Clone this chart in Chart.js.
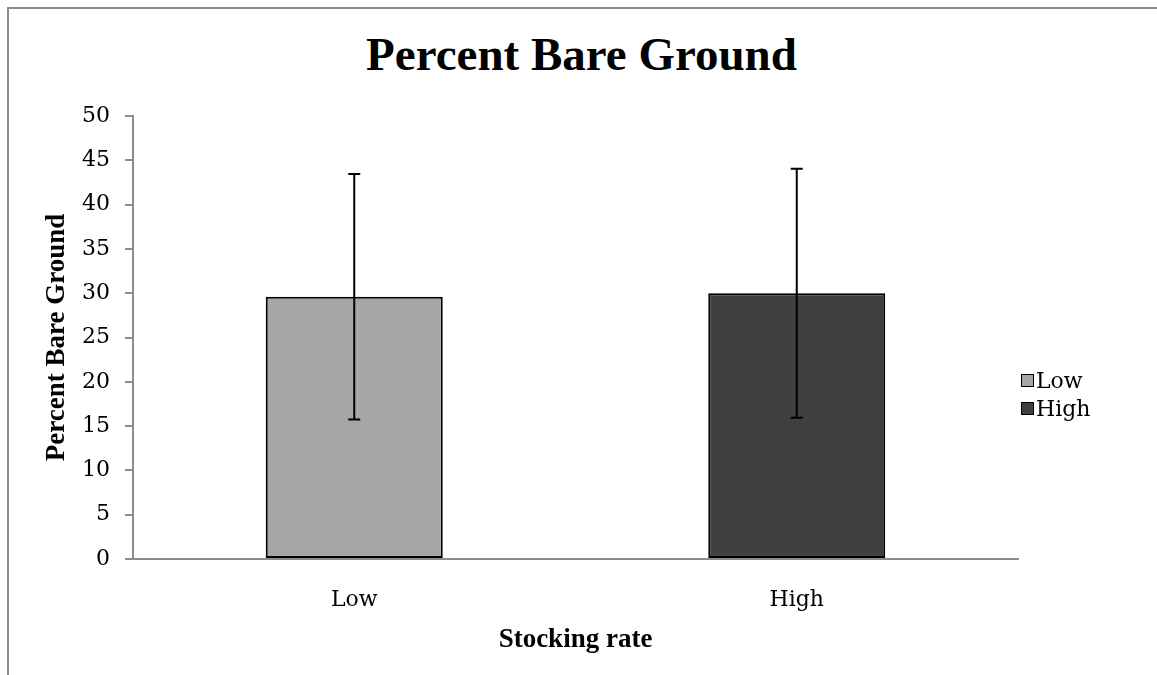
<!DOCTYPE html>
<html>
<head>
<meta charset="utf-8">
<script src="https://cdn.jsdelivr.net/npm/chart.js@4/dist/chart.umd.min.js"></script>
<style>
  html, body { margin: 0; padding: 0; background: #fff; }
  body { width: 1157px; height: 675px; position: relative; overflow: hidden; }
  #frame {
    position: absolute; left: 7px; top: 7px; width: 1200px; height: 720px;
    border-left: 2px solid #8c8c8c; border-top: 2px solid #8c8c8c;
  }
  #title {
    position: absolute; left: 0; width: 1163px; top: 27px; text-align: center;
    font: bold 47px "Liberation Serif", serif; color: #000;
  }
  #wrap { position: absolute; left: 0; top: 0; width: 1157px; height: 675px; }
  #legend {
    position: absolute; left: 1021px; top: 366px;
    font: 22px "DejaVu Serif", serif; color: #000;
  }
  .item { display: flex; align-items: center; height: 28px; }
  .swatch { width: 11px; height: 11px; border: 1px solid #000; margin-right: 2px; }
</style>
</head>
<body>
<div id="frame"></div>
<div id="title">Percent Bare Ground</div>
<div id="wrap"><canvas id="chart" width="1157" height="675"></canvas></div>
<div id="legend"></div>
<script>
const categories = ["Low", "High"];
const meanValues = [29.6, 30.0];
const errorValues = [13.85, 14.05];
const barColors = ["#a6a6a6", "#404040"];
const yMin = 0;
const yMax = 50;
const yStep = 5;
const xTitle = "Stocking rate";
const yTitle = "Percent Bare Ground";

const errorBars = {
  id: "errorBars",
  afterDatasetsDraw(chart) {
    const { ctx, scales } = chart;
    const meta = chart.getDatasetMeta(0);
    ctx.save();
    ctx.strokeStyle = "#000";
    ctx.lineWidth = 2;
    meta.data.forEach((bar, i) => {
      const top = scales.y.getPixelForValue(meanValues[i] + errorValues[i]);
      const bottom = scales.y.getPixelForValue(meanValues[i] - errorValues[i]);
      ctx.beginPath();
      ctx.moveTo(bar.x, top);
      ctx.lineTo(bar.x, bottom);
      ctx.moveTo(bar.x - 6, top);
      ctx.lineTo(bar.x + 6, top);
      ctx.moveTo(bar.x - 6, bottom);
      ctx.lineTo(bar.x + 6, bottom);
      ctx.stroke();
    });
    ctx.restore();
  },
};

const tickFont = { family: "'DejaVu Serif', serif", size: 22 };
const titleFont = { family: "'Liberation Serif', serif", size: 27, weight: "bold" };

new Chart(document.getElementById("chart").getContext("2d"), {
  type: "bar",
  data: {
    labels: categories,
    datasets: [
      {
        data: meanValues,
        backgroundColor: barColors,
        borderColor: "#000",
        borderWidth: 2,
        borderSkipped: false,
        categoryPercentage: 1,
        barPercentage: 0.4,
      },
    ],
  },
  options: {
    responsive: false,
    animation: false,
    layout: { padding: { top: 116, right: 139, bottom: 0, left: 0 } },
    plugins: {
      legend: { display: false },
      tooltip: { enabled: false },
    },
    scales: {
      x: {
        grid: { display: false },
        border: { display: true, color: "#8c8c8c", width: 2 },
        ticks: { color: "#000", font: tickFont, padding: 20 },
        title: { display: true, text: xTitle, color: "#000", font: titleFont, padding: { top: 0, bottom: 19 } },
        afterFit(scale) { scale.height = 116; },
      },
      y: {
        min: yMin,
        max: yMax,
        grid: { drawOnChartArea: false, drawTicks: true, tickLength: 8, color: "#8c8c8c", lineWidth: 2 },
        border: { display: true, color: "#8c8c8c", width: 2 },
        ticks: { stepSize: yStep, color: "#000", font: tickFont, padding: 15 },
        title: { display: true, text: yTitle, color: "#000", font: titleFont, padding: { top: 41, bottom: 0 } },
        afterFit(scale) { scale.width = 133; },
      },
    },
  },
  plugins: [errorBars],
});

const legend = document.getElementById("legend");
categories.forEach((name, i) => {
  const item = document.createElement("div");
  item.className = "item";
  const swatch = document.createElement("span");
  swatch.className = "swatch";
  swatch.style.background = barColors[i];
  const label = document.createElement("span");
  label.textContent = name;
  item.appendChild(swatch);
  item.appendChild(label);
  legend.appendChild(item);
});
</script>
</body>
</html>
